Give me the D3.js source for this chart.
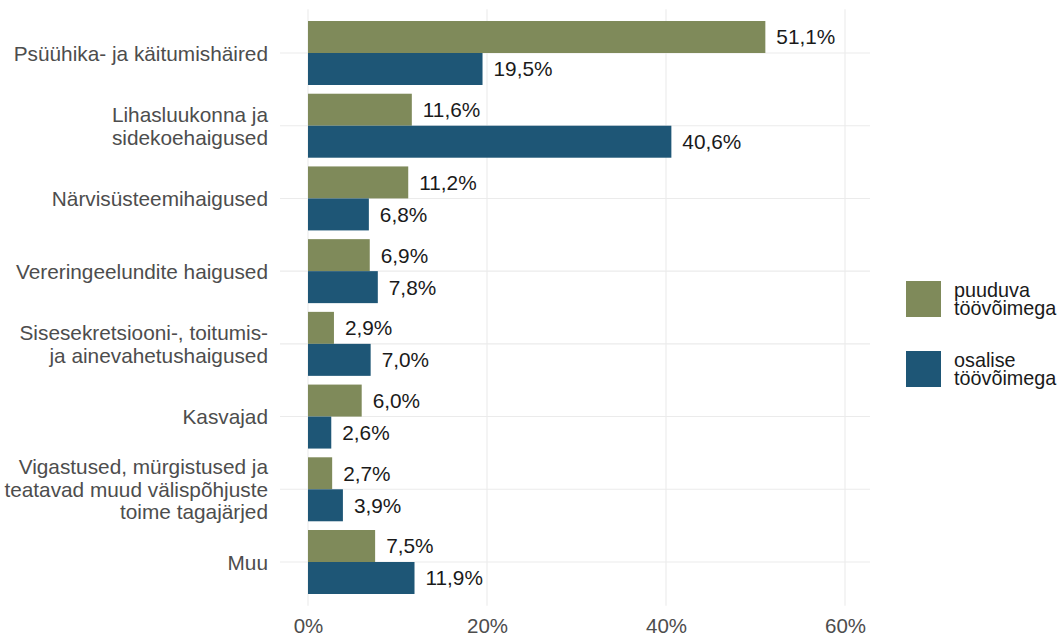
<!DOCTYPE html>
<html>
<head>
<meta charset="utf-8">
<script src="https://cdn.jsdelivr.net/npm/d3@7"></script>
<style>
  html, body { margin: 0; padding: 0; background: #ffffff; }
  svg { display: block; font-family: "Liberation Sans", Arial, sans-serif; }
</style>
</head>
<body>
<svg id="chart" width="1059" height="637"></svg>
<script>
// Diagnosis groups (each entry holds the wrapped label lines)
const categories = [
  ["Psüühika- ja käitumishäired"],
  ["Lihasluukonna ja", "sidekoehaigused"],
  ["Närvisüsteemihaigused"],
  ["Vereringeelundite haigused"],
  ["Sisesekretsiooni-, toitumis-", "ja ainevahetushaigused"],
  ["Kasvajad"],
  ["Vigastused, mürgistused ja", "teatavad muud välispõhjuste", "toime tagajärjed"],
  ["Muu"]
];
const seriesNames = ["puuduva\ntöövõimega", "osalise\ntöövõimega"];
const puuduva = [51.1, 11.6, 11.2, 6.9, 2.9, 6.0, 2.7, 7.5];
const osalise = [19.5, 40.6, 6.8, 7.8, 7.0, 2.6, 3.9, 11.9];
const xTicks = [0, 20, 40, 60];
const colors = ["#7f8a5a", "#1e5676"];

const svg = d3.select("#chart");
const catKeys = categories.map(c => c.join(" "));

const x = d3.scaleLinear().domain([0, 60]).range([308, 845]);
const y = d3.scalePoint().domain(catKeys).range([53, 562]);
const step = y.step();
const panelTop = y(catKeys[0]) - 0.6 * step;
const panelBottom = y(catKeys[catKeys.length - 1]) + 0.6 * step;
const panelLeft = 280, panelRight = 870;

const barGroup = d3.scaleBand().domain([0, 1]).range([-0.44 * step, 0.44 * step]);
const fmt = v => d3.format(".1f")(v).replace(".", ",") + "%";

// grid
const grid = svg.append("g").attr("stroke", "#ebebeb").attr("stroke-width", 1.1);
grid.selectAll("line.v").data(xTicks).join("line")
  .attr("x1", d => x(d)).attr("x2", d => x(d))
  .attr("y1", panelTop).attr("y2", panelBottom);
grid.selectAll("line.h").data(catKeys).join("line")
  .attr("x1", panelLeft).attr("x2", panelRight)
  .attr("y1", d => y(d)).attr("y2", d => y(d));

// bars with value labels
const series = [puuduva, osalise];
series.forEach((vals, si) => {
  const g = svg.append("g");
  g.selectAll("rect").data(vals).join("rect")
    .attr("x", x(0))
    .attr("y", (d, i) => y(catKeys[i]) + barGroup(si))
    .attr("width", d => x(d) - x(0))
    .attr("height", barGroup.bandwidth())
    .attr("fill", colors[si]);
  g.selectAll("text").data(vals).join("text")
    .attr("x", d => x(d) + 11)
    .attr("y", (d, i) => y(catKeys[i]) + barGroup(si) + barGroup.bandwidth() / 2)
    .attr("dy", "0.36em")
    .attr("font-size", 20.8)
    .attr("fill", "#1a1a1a")
    .text(d => fmt(d));
});

// category labels
const lineGap = 22.6;
const catText = svg.append("g").attr("fill", "#4d4d4d").attr("font-size", 20.8).attr("text-anchor", "end");
categories.forEach((lines, ci) => {
  const cy = y(catKeys[ci]);
  const t = catText.append("text");
  lines.forEach((ln, li) => {
    t.append("tspan")
      .attr("x", 268)
      .attr("y", cy + 7.5 + (li - (lines.length - 1) / 2) * lineGap)
      .text(ln);
  });
});

// x axis
const xAxis = d3.axisBottom(x).tickValues(xTicks).tickFormat(d => d + "%").tickSize(0).tickPadding(0);
const ax = svg.append("g").attr("transform", `translate(0, ${panelBottom})`).call(xAxis);
ax.select(".domain").remove();
ax.selectAll("text").attr("font-size", 20.5).attr("fill", "#4d4d4d")
  .attr("font-family", "Liberation Sans, Arial, sans-serif")
  .attr("dy", null).attr("y", 27.5);

// legend
const legend = svg.append("g");
seriesNames.forEach((name, i) => {
  const top = 281 + i * 70;
  legend.append("rect").attr("x", 906).attr("y", top).attr("width", 35).attr("height", 36).attr("fill", colors[i]);
  const t = legend.append("text").attr("font-size", 19.8).attr("fill", "#1a1a1a");
  name.split("\n").forEach((ln, li) => {
    t.append("tspan").attr("x", 954).attr("y", top + 16 + li * 17.5).text(ln);
  });
});
</script>
</body>
</html>
